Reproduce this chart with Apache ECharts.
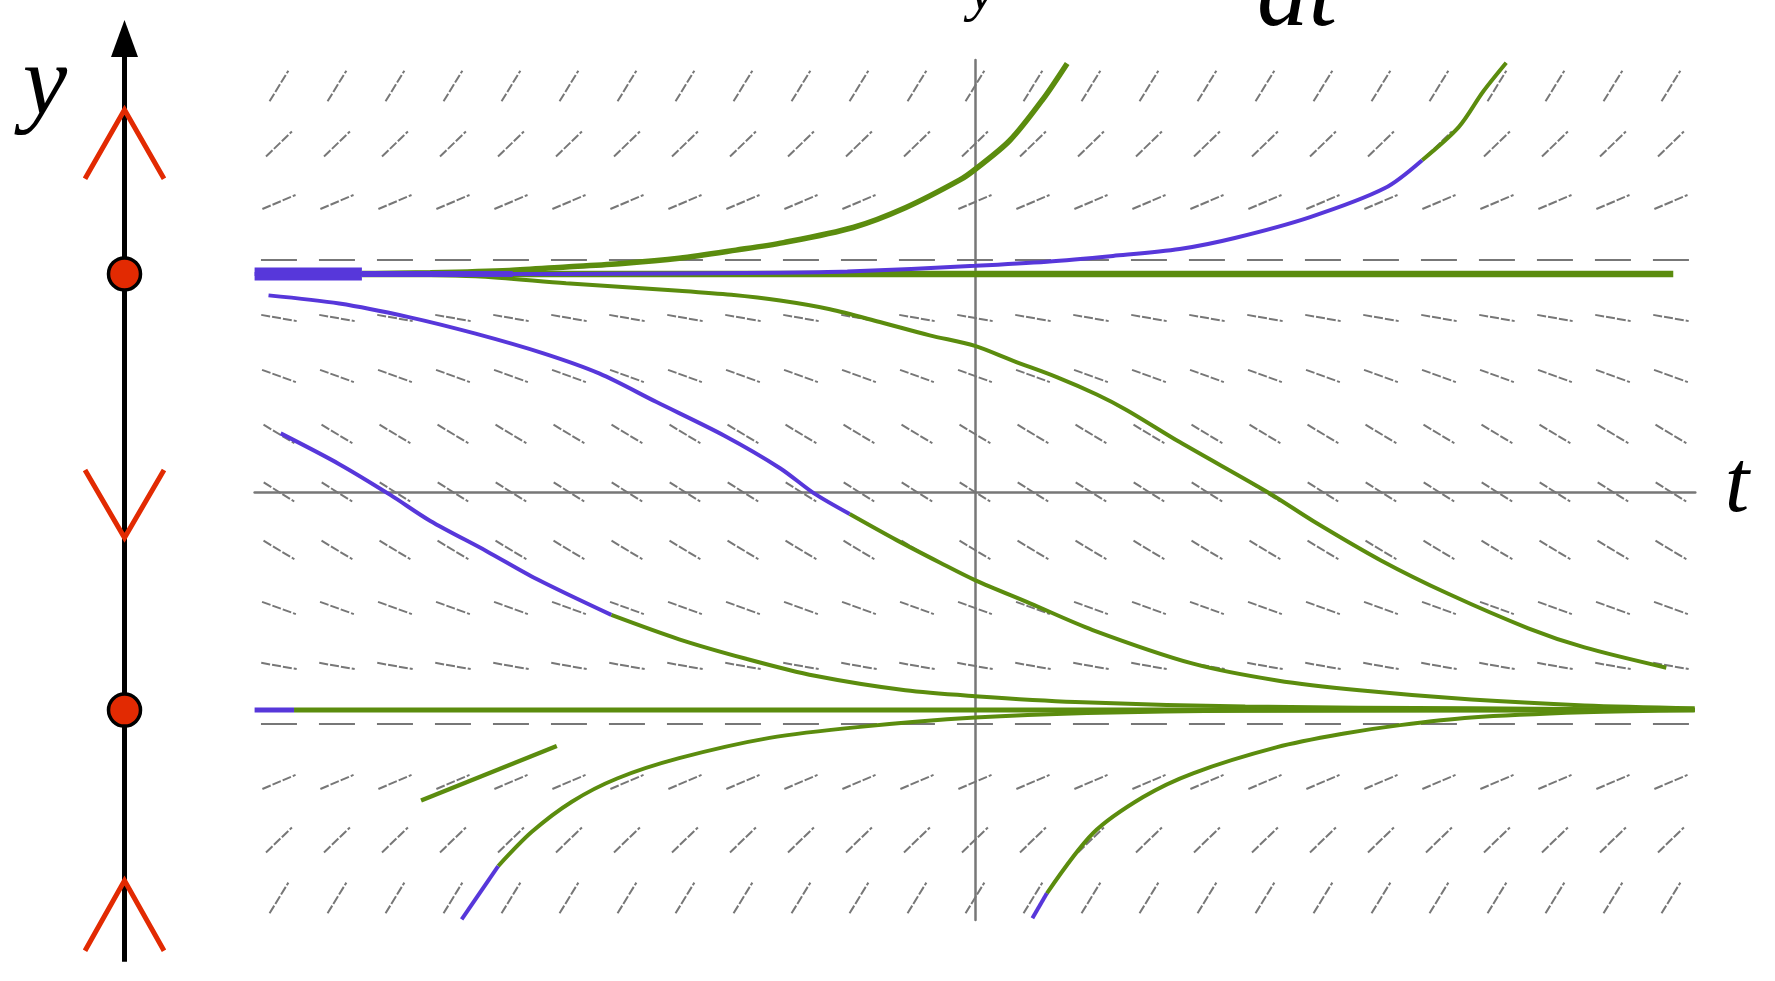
<!DOCTYPE html>
<html>
<head>
<meta charset="utf-8">
<title>Slope field and phase line</title>
<script src="https://cdn.jsdelivr.net/npm/echarts@6/dist/echarts.min.js"></script>
<style>
  html, body { margin: 0; padding: 0; background: #fff; }
  #chart { width: 1775px; height: 981px; }
</style>
</head>
<body>
<div id="chart"></div>
<script>
// slope field grid: column positions (t) and row positions (y), slope angle per row (degrees, on screen)
const colT = [-12, -11, -10, -9, -8, -7, -6, -5, -4, -3, -2, -1, 0, 1, 2, 3, 4, 5, 6, 7, 8, 9, 10, 11, 12];
const rowY = [7, 6, 5, 4, 3, 2, 1, 0, -1, -2, -3, -4, -5, -6, -7];
const rowAngle = [58.5, 44, 23, 0, -10, -20, -31, -32, -31, -20, -10, 0, 23, 44, 58.5];

// equilibria
const eqUpper = 3.76;
const eqLower = -3.76;

// solution curves [t, y]
const upperEqPurpleThick = [[-12.42, eqUpper], [-10.57, eqUpper]];
const upperEqPurpleMid = [[-10.57, eqUpper], [-7.97, eqUpper]];
const upperEqGreen = [[-10.57, eqUpper], [12.04, eqUpper]];
const lowerEqPurple = [[-12.42, eqLower], [-11.74, eqLower]];
const lowerEqGreen = [[-11.74, eqLower], [12.41, eqLower]];

const upperRiseGreen = [[-10.57, 3.76], [-9.39, 3.78], [-8.03, 3.82], [-7.05, 3.88], [-6.08, 3.94], [-5.10, 4.03],
  [-4.12, 4.17], [-3.3, 4.3], [-2.1, 4.56], [-1.2, 4.9], [-0.26, 5.38], [0, 5.56], [0.6, 6.06], [1.17, 6.77], [1.59, 7.39]];

const upperDriftPurple = [[-12.42, 3.76], [-7.05, 3.76], [-3.36, 3.78], [-2.2, 3.8], [0, 3.9], [1.24, 3.97],
  [2.38, 4.07], [3.53, 4.19], [4.48, 4.38], [5.78, 4.74], [7.07, 5.24], [7.71, 5.72]];
const upperDriftGreen = [[7.71, 5.72], [8.34, 6.29], [8.76, 6.9], [9.16, 7.4]];

const upperFallGreen = [[-10.57, 3.76], [-8.61, 3.72], [-7.05, 3.6], [-5.1, 3.47], [-4.2, 3.4], [-3.36, 3.3],
  [-2.5, 3.15], [-1.64, 2.93], [-0.78, 2.7], [0, 2.52], [0.66, 2.26], [1.41, 1.98], [2.1, 1.68], [2.62, 1.41],
  [3.53, 0.86], [5.09, -0.03], [5.83, -0.5], [7.0, -1.18], [8.17, -1.76], [9.54, -2.35], [10.51, -2.68], [11.92, -3.03]];

const midFallPurple = [[-12.18, 3.39], [-10.96, 3.25], [-9.78, 3.02], [-8.61, 2.73], [-7.44, 2.39], [-6.47, 2.04],
  [-5.49, 1.55], [-4.32, 0.97], [-3.36, 0.41], [-2.78, -0.02], [-2.16, -0.38]];
const midFallGreen = [[-2.16, -0.38], [-1.35, -0.83], [-0.6, -1.22], [0, -1.52], [0.95, -1.92], [2.03, -2.38],
  [3.76, -2.96], [5.21, -3.25], [6.63, -3.42], [8.56, -3.58], [10.51, -3.68], [12.41, -3.73]];

const lowFallPurple = [[-11.97, 1.01], [-10.96, 0.48], [-10.08, -0.05], [-9.39, -0.5], [-8.42, -1.02], [-7.54, -1.51], [-6.27, -2.12]];
const lowFallGreen = [[-6.27, -2.12], [-5.1, -2.54], [-3.93, -2.88], [-2.76, -3.17], [-1.2, -3.42], [0, -3.52],
  [1.73, -3.62], [4.66, -3.7], [8.56, -3.73], [12.41, -3.76]];

const belowLeftPurple = [[-8.85, -7.37], [-8.22, -6.45]];
const belowLeftGreen = [[-8.22, -6.45], [-7.64, -5.86], [-6.95, -5.34], [-6.17, -4.94], [-5.1, -4.59], [-3.54, -4.24],
  [-1.98, -4.05], [0, -3.89], [1.93, -3.81], [4.66, -3.77], [12.41, -3.76]];

const belowRightPurple = [[0.99, -7.35], [1.24, -6.92]];
const belowRightGreen = [[1.24, -6.92], [2.04, -5.88], [2.9, -5.26], [3.76, -4.85], [5.21, -4.4], [6.34, -4.17],
  [7.33, -4.02], [8.56, -3.89], [10.51, -3.8], [12.41, -3.76]];

const shortGreen = [[-9.55, -5.32], [-7.21, -4.38]];

// phase line: axis extent, arrow head, chevrons (apex y, arm-end y)
const phaseAxis = [[0, -8.1], [0, 7.6]];
const phaseHead = [[0, 7.82]];
const chevrons = [[6.59, 5.4], [-0.79, 0.38], [-6.7, -7.91]];
const equilibria = [[0, eqUpper], [0, eqLower]];

const GREEN = '#5b8c0e';
const PURPLE = '#5737da';
const RED = '#e22a02';

var myChart = echarts.init(document.getElementById('chart'));

function curve(data, color, width) {
  return {
    type: 'line', xAxisIndex: 0, yAxisIndex: 0, data: data, symbol: 'none', smooth: 0.3,
    silent: true, clip: false, z: 3,
    lineStyle: { color: color, width: width }
  };
}

let slopeData = [];
rowY.forEach((y, i) => {
  colT.forEach(t => slopeData.push([t, y, rowAngle[i]]));
});

let series = [
  {
    type: 'custom', xAxisIndex: 0, yAxisIndex: 0, data: slopeData, silent: true, z: 1,
    renderItem: function (params, api) {
      const c = api.coord([api.value(0), api.value(1)]);
      const a = api.value(2) * Math.PI / 180;
      const h = 18;
      return {
        type: 'line',
        shape: { x1: c[0] - h * Math.cos(a), y1: c[1] + h * Math.sin(a), x2: c[0] + h * Math.cos(a), y2: c[1] - h * Math.sin(a) },
        style: { stroke: '#777', lineWidth: 2, lineDash: api.value(2) === 0 ? null : [9, 2] }
      };
    }
  },
  curve(upperEqGreen, GREEN, 6.5),
  curve(lowerEqGreen, GREEN, 5),
  curve(upperRiseGreen, GREEN, 5.5),
  curve(upperFallGreen, GREEN, 4),
  curve(upperDriftGreen, GREEN, 4),
  curve(midFallGreen, GREEN, 4),
  curve(lowFallGreen, GREEN, 4),
  curve(belowLeftGreen, GREEN, 4),
  curve(belowRightGreen, GREEN, 4),
  curve(shortGreen, GREEN, 4.5),
  curve(upperEqPurpleThick, PURPLE, 13),
  curve(upperEqPurpleMid, PURPLE, 6),
  curve(upperDriftPurple, PURPLE, 4),
  curve(midFallPurple, PURPLE, 4),
  curve(lowFallPurple, PURPLE, 4),
  curve(lowerEqPurple, PURPLE, 5),
  curve(belowLeftPurple, PURPLE, 4),
  curve(belowRightPurple, PURPLE, 4),
  // phase line
  {
    type: 'line', xAxisIndex: 1, yAxisIndex: 1, data: phaseAxis, symbol: 'none', silent: true, clip: false,
    lineStyle: { color: '#000', width: 5 }
  },
  {
    type: 'scatter', xAxisIndex: 1, yAxisIndex: 1, data: phaseHead, symbol: 'triangle', symbolSize: [27, 37],
    silent: true, itemStyle: { color: '#000', opacity: 1 }
  }
];

chevrons.forEach(c => {
  series.push({
    type: 'line', xAxisIndex: 1, yAxisIndex: 1, symbol: 'none', silent: true, clip: false, z: 4,
    data: [[-1, c[1]], [0, c[0]], [1, c[1]]],
    lineStyle: { color: RED, width: 5, join: 'miter' }
  });
});

series.push({
  type: 'scatter', xAxisIndex: 1, yAxisIndex: 1, data: equilibria, symbolSize: 32, silent: true, z: 5,
  itemStyle: { color: RED, borderColor: '#000', borderWidth: 3.5, opacity: 1 }
});

let option = {
  animation: false,
  backgroundColor: '#fff',
  grid: [
    { left: 254.6, top: 59.9, width: 1440.7, height: 860.1 },
    { left: 85, top: 10.6, width: 79, height: 962.8 }
  ],
  xAxis: [
    {
      gridIndex: 0, type: 'value', min: -12.42, max: 12.42,
      axisLine: { show: true, onZero: true, lineStyle: { color: '#777', width: 2.5 } },
      axisTick: { show: false }, axisLabel: { show: false }, splitLine: { show: false }
    },
    { gridIndex: 1, type: 'value', min: -1, max: 1, show: false }
  ],
  yAxis: [
    {
      gridIndex: 0, type: 'value', min: -7.38, max: 7.45,
      axisLine: { show: true, onZero: true, lineStyle: { color: '#777', width: 2.5 } },
      axisTick: { show: false }, axisLabel: { show: false }, splitLine: { show: false }
    },
    { gridIndex: 1, type: 'value', min: -8.3, max: 8.3, show: false }
  ],
  graphic: [
    { type: 'text', x: 45, y: 88, style: { text: 'y', font: 'italic 100px "Liberation Serif"', fill: '#000', align: 'center', verticalAlign: 'middle' } },
    { type: 'text', x: 1737, y: 488, style: { text: 't', font: 'italic 88px "Liberation Serif"', fill: '#000', align: 'center', verticalAlign: 'middle' } },
    { type: 'text', x: 982, y: -7, style: { text: 'y', font: 'italic 60px "Liberation Serif"', fill: '#000', align: 'center', verticalAlign: 'middle' } },
    { type: 'text', x: 1297, y: -2, style: { text: 'dt', font: 'italic 103px "Liberation Serif"', fill: '#000', align: 'center', verticalAlign: 'middle' } }
  ],
  series: series
};

myChart.setOption(option);
</script>
</body>
</html>
